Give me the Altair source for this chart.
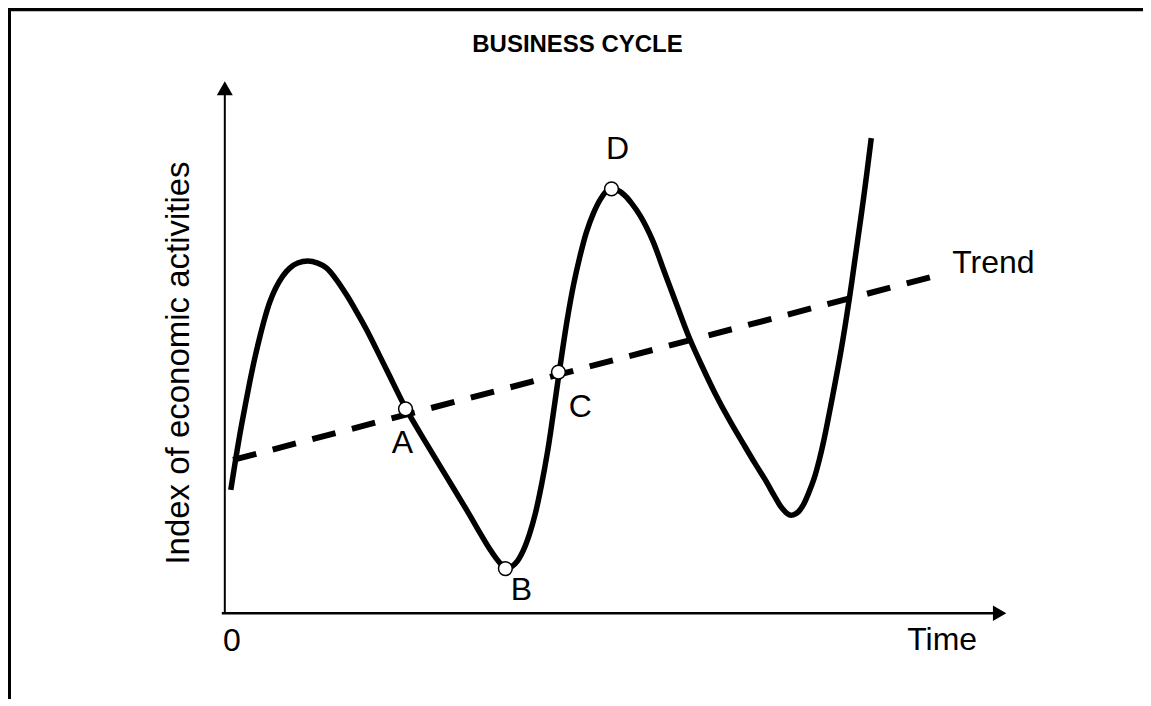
import altair as alt
import pandas as pd

# ---- data (Time and Index on 0-100 scales) ----
curve_time = [0.51, 1.02, 1.66, 2.30, 2.94, 3.59, 4.23, 4.87, 5.51, 6.27, 7.17, 8.07,
              9.09, 10.37, 11.65, 12.80, 14.08, 15.36, 16.65, 17.93, 20.49, 23.05,
              25.61, 28.17, 30.73, 32.14, 33.67, 34.57, 35.21, 35.85, 36.49, 37.26,
              38.03, 38.80, 39.56, 40.33, 41.10, 41.74, 42.38, 43.02, 43.66, 44.43,
              45.20, 46.09, 46.99, 47.89, 48.66, 49.30, 50.06, 50.96, 51.86, 53.01,
              54.55, 56.08, 57.62, 59.28, 60.95, 62.61, 64.40, 66.20, 67.73, 69.01,
              70.17, 70.93, 71.57, 72.09, 72.60, 73.24, 73.88, 74.52, 75.29, 75.93,
              76.44, 77.59, 78.75, 79.77, 80.67, 81.69, 82.59]
curve_index = [23.08, 27.77, 33.40, 38.46, 43.34, 47.84, 51.78, 55.35, 58.35, 60.98,
               63.23, 64.73, 65.67, 66.04, 65.67, 64.73, 62.48, 59.66, 56.47, 53.10,
               45.59, 38.09, 31.71, 25.52, 19.32, 15.76, 12.01, 10.13, 9.01, 8.26,
               8.63, 9.76, 11.82, 14.82, 18.76, 24.02, 30.21, 36.40, 42.96, 49.34,
               55.35, 61.54, 66.60, 71.48, 75.05, 77.67, 79.17, 79.55, 79.36, 78.42,
               76.92, 74.48, 69.98, 63.98, 57.97, 51.59, 46.15, 41.09, 36.21, 31.71,
               27.95, 24.95, 21.95, 20.08, 18.95, 18.39, 18.39, 18.95, 20.26, 22.33,
               25.33, 28.71, 31.89, 40.34, 49.53, 58.91, 68.11, 78.80, 89.12]

trend_time = [0.8, 92.2]
trend_index = [28.7, 63.8]

point_labels = ["A", "B", "C", "D"]
point_time = [22.9, 35.7, 42.5, 49.3]
point_index = [38.3, 8.3, 45.2, 79.6]

title_text = "BUSINESS CYCLE"
x_title = "Time"
y_title = "Index of economic activities"
origin_label = "0"
trend_label = "Trend"

FONT = "Liberation Sans"
FS = 32
W, H = 1136, 691

curve_df = pd.DataFrame({"t": curve_time, "v": curve_index})
trend_df = pd.DataFrame({"t": trend_time, "v": trend_index})
pts_df = pd.DataFrame({"label": point_labels, "t": point_time, "v": point_index})
one = pd.DataFrame({"_": [0]})

xs = alt.Scale(domain=[0, 100], range=[219, 1000], nice=False, zero=False)
ys = alt.Scale(domain=[0, 100], range=[605, 72], nice=False, zero=False)
X = alt.X("t:Q", scale=xs, axis=None)
Y = alt.Y("v:Q", scale=ys, axis=None)

# frame: a box whose right and bottom edges lie outside the visible page
frame = alt.Chart(one).mark_rect(fill="transparent", stroke="black", strokeWidth=4).encode(
    x=alt.value(1), y=alt.value(1), x2=alt.value(W + 40), y2=alt.value(H + 40))

# axes
y_axis = alt.Chart(one).mark_rule(color="black", strokeWidth=2).encode(
    x=alt.value(217), y=alt.value(606), y2=alt.value(86))
x_axis = alt.Chart(one).mark_rule(color="black", strokeWidth=2.5).encode(
    x=alt.value(214), x2=alt.value(988), y=alt.value(605.5))
y_arrow = alt.Chart(one).mark_point(shape="triangle-up", filled=True, color="black",
                                    size=256, opacity=1).encode(
    x=alt.value(217), y=alt.value(80))
x_arrow = alt.Chart(one).mark_point(shape="triangle-right", filled=True, color="black",
                                    size=240, opacity=1).encode(
    x=alt.value(992.5), y=alt.value(605.5))

trend = alt.Chart(trend_df).mark_line(color="black", strokeWidth=6,
                                      strokeDash=[24, 17]).encode(x=X, y=Y)
curve = alt.Chart(curve_df).mark_line(color="black", strokeWidth=5.5,
                                      interpolate="catmull-rom").encode(x=X, y=Y)
points = alt.Chart(pts_df).mark_point(shape="circle", filled=True, fill="white",
                                      stroke="black", strokeWidth=1.5, size=190,
                                      opacity=1).encode(x=X, y=Y)

offsets = {"A": (-3, 34), "B": (16, 21), "C": (22, 35), "D": (6, -40)}
label_layers = []
for lab, (dx, dy) in offsets.items():
    label_layers.append(
        alt.Chart(pts_df).transform_filter(alt.datum.label == lab)
        .mark_text(font=FONT, fontSize=FS, color="black", dx=dx, dy=dy,
                   align="center", baseline="middle")
        .encode(x=X, y=Y, text="label:N"))

trend_text = alt.Chart(trend_df.tail(1).assign(label=trend_label)).mark_text(
    font=FONT, fontSize=FS, color="black", dx=6, dy=-10, align="left",
    baseline="middle").encode(x=X, y=Y, text="label:N")

title = alt.Chart(one).mark_text(font=FONT, fontSize=24, fontWeight="bold",
                                 color="black", align="center", baseline="middle").encode(
    x=alt.value(570), y=alt.value(37), text=alt.value(title_text))
ylab = alt.Chart(one).mark_text(font=FONT, fontSize=33, color="black", angle=270,
                                align="center", baseline="middle").encode(
    x=alt.value(171), y=alt.value(355), text=alt.value(y_title))
xlab = alt.Chart(one).mark_text(font=FONT, fontSize=FS, color="black",
                                align="center", baseline="middle").encode(
    x=alt.value(935), y=alt.value(632), text=alt.value(x_title))
zlab = alt.Chart(one).mark_text(font=FONT, fontSize=FS, color="black",
                                align="center", baseline="middle").encode(
    x=alt.value(224), y=alt.value(633), text=alt.value(origin_label))

chart = alt.layer(
    frame, y_axis, x_axis, y_arrow, x_arrow,
    trend, curve, points, *label_layers, trend_text, title, ylab, xlab, zlab
).properties(
    width=W, height=H,
    autosize=alt.AutoSizeParams(type="none"),
    padding=0,
).configure(background="white", view=alt.ViewConfig(stroke="transparent", strokeWidth=0))

chart.save("out.html", embed_options={"renderer": "svg", "actions": False})
